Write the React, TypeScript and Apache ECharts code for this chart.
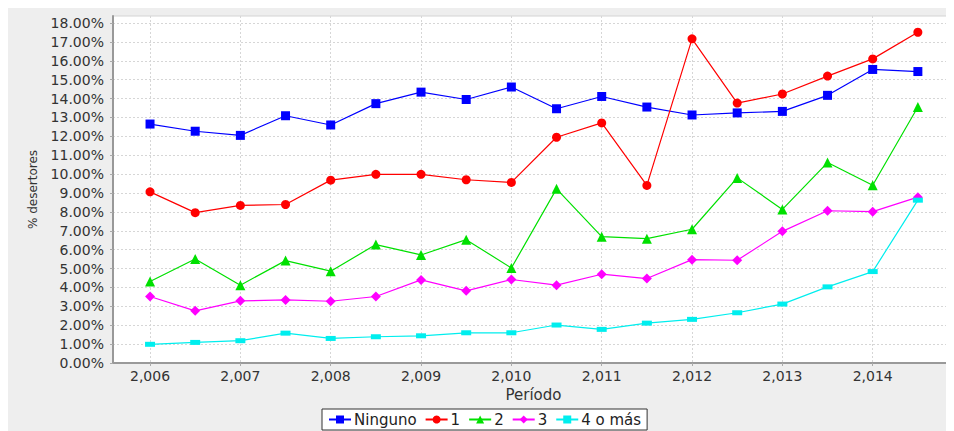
import { useEffect, useRef } from "react";
import * as echarts from "echarts";

const periods = [2006, 2006.5, 2007, 2007.5, 2008, 2008.5, 2009, 2009.5, 2010, 2010.5, 2011, 2011.5, 2012, 2012.5, 2013, 2013.5, 2014, 2014.5];
const ninguno = [12.65, 12.27, 12.05, 13.09, 12.6, 13.73, 14.34, 13.95, 14.61, 13.46, 14.11, 13.55, 13.13, 13.24, 13.32, 14.17, 15.54, 15.43];
const uno = [9.06, 7.96, 8.34, 8.39, 9.68, 9.99, 9.99, 9.7, 9.56, 11.95, 12.71, 9.4, 17.16, 13.76, 14.24, 15.19, 16.1, 17.51];
const dos = [4.31, 5.51, 4.12, 5.42, 4.86, 6.27, 5.72, 6.53, 5.03, 9.22, 6.69, 6.58, 7.08, 9.8, 8.13, 10.61, 9.41, 13.55];
const tres = [3.52, 2.76, 3.29, 3.34, 3.27, 3.52, 4.4, 3.82, 4.42, 4.12, 4.7, 4.47, 5.47, 5.44, 6.97, 8.06, 8.01, 8.78];
const cuatroOMas = [0.99, 1.09, 1.18, 1.58, 1.3, 1.39, 1.44, 1.6, 1.6, 2.01, 1.78, 2.11, 2.31, 2.66, 3.12, 4.03, 4.84, 8.62];

const xTicks = [2006, 2007, 2008, 2009, 2010, 2011, 2012, 2013, 2014];
const yTicks = [0, 1, 2, 3, 4, 5, 6, 7, 8, 9, 10, 11, 12, 13, 14, 15, 16, 17, 18];

const font = "DejaVu Sans";

export default function App() {
  const chartRef = useRef<HTMLDivElement | null>(null);

  useEffect(() => {
    const container = chartRef.current;
    if (!container) return;
    const chart = echarts.init(container, null, { renderer: "svg" });

    const pairs = (values: number[]) => periods.map((p, i) => [p, values[i]]);
    const makeSeries = (name: string, values: number[], color: string, symbol: string, symbolSize: number | number[]) => ({
      name,
      type: "line",
      data: pairs(values),
      symbol,
      symbolSize,
      showAllSymbol: true,
      lineStyle: { color, width: 1.2 },
      itemStyle: { color },
      emphasis: { disabled: true }
    });

    chart.setOption({
      animation: false,
      backgroundColor: "#eeeeee",
      textStyle: { fontFamily: font },
      grid: {
        left: 105,
        right: 0,
        top: 8,
        bottom: 68,
        show: true,
        backgroundColor: "#ffffff",
        borderColor: "#d4d4d4",
        borderWidth: 1
      },
      legend: {
        left: 314,
        top: 401,
        padding: [3, 6, 3, 6],
        itemGap: 8,
        itemWidth: 22,
        itemHeight: 10,
        backgroundColor: "#ffffff",
        borderColor: "#333333",
        borderWidth: 1,
        borderRadius: 0,
        textStyle: { fontFamily: font, fontSize: 15, color: "#222222", padding: [0, 0, 0, -2] },
        data: ["Ninguno", "1", "2", "3", "4 o más"]
      },
      xAxis: {
        type: "value",
        min: 2005.59,
        max: 2014.9,
        name: "Período",
        nameLocation: "middle",
        nameGap: 19,
        nameTextStyle: { fontFamily: font, fontSize: 15, color: "#333333" },
        axisLine: { lineStyle: { color: "#999999", width: 2 } },
        axisTick: { show: true, length: 3, lineStyle: { color: "#aaaaaa" }, customValues: xTicks },
        axisLabel: {
          customValues: xTicks,
          fontFamily: font,
          fontSize: 14,
          color: "#333333",
          margin: 6,
          formatter: (v: number) => v.toLocaleString("en-US")
        },
        splitLine: { show: true, lineStyle: { color: "#d6d6d6", type: [2, 2], width: 1 } }
      },
      yAxis: {
        type: "value",
        min: 0,
        max: 18.37,
        name: "% desertores",
        nameLocation: "middle",
        nameGap: 74,
        nameTextStyle: { fontFamily: font, fontSize: 12, color: "#333333" },
        axisLine: { show: true, lineStyle: { color: "#999999", width: 2 } },
        axisTick: { show: true, length: 3, lineStyle: { color: "#aaaaaa" }, customValues: yTicks },
        axisLabel: {
          customValues: yTicks,
          fontFamily: font,
          fontSize: 14,
          color: "#333333",
          margin: 9,
          formatter: (v: number) => v.toFixed(2) + "%"
        },
        splitLine: { show: true, lineStyle: { color: "#d6d6d6", type: [2, 2], width: 1 } }
      },
      series: [
        makeSeries("Ninguno", ninguno, "#0000ff", "rect", 9),
        makeSeries("1", uno, "#ff0000", "circle", 9),
        makeSeries("2", dos, "#00e000", "triangle", 10),
        makeSeries("3", tres, "#ff00ff", "diamond", 10),
        makeSeries("4 o más", cuatroOMas, "#00eeee", "rect", [10, 5])
      ]
    });

    return () => {
      chart.dispose();
    };
  }, []);

  return <div ref={chartRef} style={{ width: 946, height: 423 }} />;
}
